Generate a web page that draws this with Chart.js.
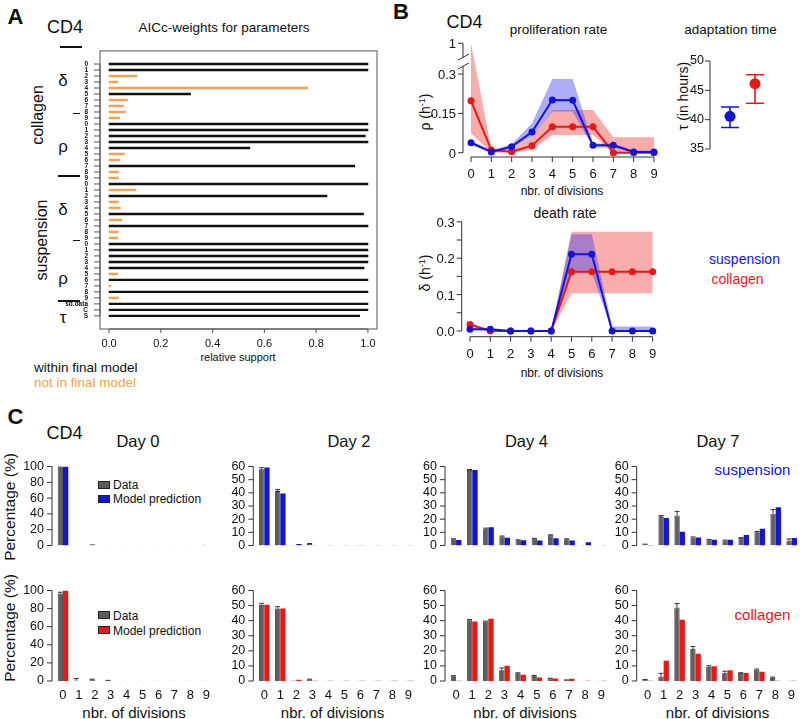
<!DOCTYPE html>
<html>
<head>
<meta charset="utf-8">
<script src="https://cdn.jsdelivr.net/npm/chart.js@4.4.1/dist/chart.umd.min.js"></script>
<style>
  body { margin: 0; width: 800px; height: 719px; position: relative; overflow: hidden; background: #fff;
         font-family: 'Liberation Sans', Arial, sans-serif; color: #111; }
  canvas { position: absolute; z-index: 2; }
  .t { position: absolute; white-space: nowrap; line-height: 1; z-index: 1; }
  .tk { z-index: 3; }
  .ln { position: absolute; background: #111; height: 1.5px; }
  .box { position: absolute; box-sizing: border-box; border: 1px solid #222; }
</style>
</head>
<body>
<script>
// ---------- data ----------
const digits = ['0', '1', '2', '3', '4', '5', '6', '7', '8', '9'];
const aRowLabels = [...digits, ...digits, ...digits, ...digits, 'sd.data', 'C', 'S'];
const aTicks = [0, 0.2, 0.4, 0.6, 0.8, 1.0];
// AICc weights: collagen delta, collagen rho, suspension delta, suspension rho, sd.data, tau C, tau S
const aWeights = [
  1.0, 1.0, 0.108, 0.033, 0.767, 0.315, 0.071, 0.055, 0.063, 0.041,
  1.0, 1.0, 0.99, 1.0, 0.544, 0.059, 0.040, 0.949, 0.036, 0.036,
  1.0, 0.104, 0.842, 0.036, 0.044, 0.983, 0.049, 1.0, 0.036, 0.033,
  1.0, 1.0, 1.0, 1.0, 0.985, 0.033, 1.0, 0.007, 1.0, 0.036,
  1.0, 1.0, 0.968
];
const aInFinal = [
  1, 1, 0, 0, 0, 1, 0, 0, 0, 0,
  1, 1, 1, 1, 1, 0, 0, 1, 0, 0,
  1, 0, 1, 0, 0, 1, 0, 1, 0, 0,
  1, 1, 1, 1, 1, 0, 1, 0, 1, 0,
  1, 1, 1
];

const divisions = [0, 1, 2, 3, 4, 5, 6, 7, 8, 9];
const rhoTicks = [0, 0.15, 0.3, 1];
const rhoTickLabels = ['0', '0.15', '0.3', '1'];
const rhoSus   = [0.038, 0.003, 0.023, 0.079, 0.201, 0.200, 0.028, 0.028, 0.003, 0.003];
const rhoSusLo = [0.030, 0.000, 0.015, 0.061, 0.157, 0.157, 0.020, 0.020, 0.000, 0.000];
const rhoSusHi = [0.045, 0.010, 0.032, 0.112, 0.281, 0.281, 0.035, 0.035, 0.008, 0.008];
const rhoCol   = [0.198, 0.010, 0.004, 0.027, 0.099, 0.099, 0.099, 0.000, 0.000, 0.000];
const rhoColLo = [0.074, 0.000, 0.000, 0.010, 0.068, 0.068, 0.068, 0.000, 0.000, 0.000];
const rhoColHi = [1.000, 0.015, 0.012, 0.060, 0.163, 0.163, 0.163, 0.059, 0.059, 0.059];

const deltaTicks = [0, 0.05, 0.1, 0.15, 0.2, 0.25, 0.3];
const deltaTickLabels = ['0.0', '', '0.1', '', '0.2', '', '0.3'];
const deltaSus   = [0.005, 0.005, 0, 0, 0, 0.211, 0.211, 0, 0, 0];
const deltaSusLo = [0.003, 0.000, 0, 0, 0, 0.160, 0.160, 0, 0, 0];
const deltaSusHi = [0.007, 0.007, 0.001, 0.001, 0.001, 0.266, 0.266, 0.012, 0.012, 0.012];
const deltaCol   = [0.018, 0.000, 0, 0, 0, 0.163, 0.163, 0.163, 0.163, 0.163];
const deltaColLo = [0.012, 0.000, 0, 0, 0, 0.104, 0.104, 0.104, 0.104, 0.104];
const deltaColHi = [0.022, 0.002, 0.001, 0.001, 0.001, 0.273, 0.273, 0.273, 0.273, 0.273];

const tauLabels = ['suspension', 'collagen'];
const tauMean = [40.57, 46.13];
const tauLo   = [38.67, 42.80];
const tauHi   = [42.17, 47.65];

// percentage of cells per division, data (mean, sd) and model
const sus0Data  = [98.3, 0.3, 1.5, 0.3, 0.4, 0.3, 0.3, 0.3, 0.3, 1.0];
const sus0Err   = [1.0, 0, 0, 0, 0, 0, 0, 0, 0, 0];
const sus0Model = [100, 0.1, 0.1, 0.1, 0.1, 0.1, 0.1, 0.1, 0.1, 0.1];
const sus2Data  = [57.9, 41.3, 0.3, 1.2, 0.2, 0.2, 0.3, 0.2, 0.2, 0.2];
const sus2Err   = [1.2, 1.3, 0, 0.3, 0, 0, 0, 0, 0, 0];
const sus2Model = [59.3, 39.4, 1.2, 0.2, 0.1, 0.1, 0.1, 0.1, 0.1, 0.1];
const sus4Data  = [4.8, 57.4, 12.7, 6.9, 4.0, 5.1, 7.7, 4.8, 0.3, 0.2];
const sus4Err   = [0.3, 0.3, 0.5, 0.3, 0.3, 0.3, 0.4, 0.3, 0, 0];
const sus4Model = [4.2, 57.4, 13.9, 5.9, 4.0, 3.8, 5.5, 3.8, 2.4, 0.2];
const sus7Data  = [0.8, 22.2, 22.8, 6.1, 4.4, 3.8, 5.7, 10.1, 24.2, 3.8];
const sus7Err   = [0.2, 0.5, 3.1, 0.4, 0.2, 0.3, 0.3, 0.6, 3.1, 1.2];
const sus7Model = [0.3, 20.8, 10.5, 6.0, 4.4, 4.4, 7.9, 12.7, 29.1, 5.7];

const col0Data  = [96.6, 0.6, 1.7, 0.5, 0.3, 0.3, 0.2, 0.2, 0.2, 0.2];
const col0Err   = [1.5, 2.1, 0.3, 0.2, 0, 0, 0, 0, 0, 0];
const col0Model = [100, 0.1, 0.1, 0.1, 0.1, 0.1, 0.1, 0.1, 0.1, 0.1];
const col2Data  = [50.5, 48.0, 0.3, 1.0, 0.2, 0.2, 0.1, 0.1, 0.1, 0.1];
const col2Err   = [1.0, 1.3, 0, 0.2, 0, 0, 0, 0, 0, 0];
const col2Model = [50.5, 48.0, 0.9, 0.1, 0.1, 0.1, 0.1, 0.1, 0.1, 0.1];
const col4Data  = [3.2, 40.2, 39.4, 7.1, 5.1, 3.4, 1.6, 0.5, 0.2, 0.2];
const col4Err   = [0.3, 0.5, 0.3, 1.5, 0.3, 0.3, 0.2, 0.2, 0, 0];
const col4Model = [0.1, 39.4, 41.2, 10.1, 4.1, 2.4, 1.6, 1.5, 0.1, 0.1];
const col7Data  = [0.8, 3.0, 48.7, 21.3, 9.3, 5.5, 5.3, 7.5, 2.0, 0.1];
const col7Err   = [0.2, 2.1, 2.6, 1.6, 0.8, 1.0, 0.2, 0.4, 0.6, 0];
const col7Model = [0.1, 13.4, 40.6, 18.1, 9.7, 7.1, 5.3, 6.1, 0.1, 0.1];

// ---------- styles ----------
const BLUE = '#1414d8';
const RED = '#ec1616';
const BLUE_BAND = 'rgba(60,60,240,0.42)';
const RED_BAND = 'rgba(242,70,70,0.45)';
const GRAY = '#5e5e5e';
const ORANGE = '#f4a24c';
const FONT = "'Liberation Sans', Arial, sans-serif";

Chart.defaults.font.family = FONT;
Chart.defaults.color = '#111';
Chart.defaults.animation = false;
Chart.defaults.responsive = false;
Chart.defaults.plugins.legend.display = false;
Chart.defaults.plugins.tooltip.enabled = false;

// R-like axes: line from first to last tick, outward ticks, optional box and axis break.
// cfg is captured directly so arrays don't go through Chart's option resolver.
function rAxes(cfg) {
  return {
    id: 'rAxes',
    afterDraw(chart) {
      const { ctx, chartArea: a } = chart;
      ctx.save();
      ctx.strokeStyle = cfg.color || '#333';
      ctx.lineWidth = 1;
      if (cfg.box) ctx.strokeRect(a.left, a.top, a.right - a.left, a.bottom - a.top);
      (cfg.axes || []).forEach(ax => {
        const s = chart.scales[ax.id];
        const vals = ax.values || s.ticks.map(t => t.value);
        const px = vals.map(v => s.getPixelForValue(v));
        const lo = Math.min(...px), hi = Math.max(...px);
        ctx.beginPath();
        if (s.isHorizontal()) {
          const y = a.bottom + (ax.off || 0);
          ctx.moveTo(lo, y); ctx.lineTo(hi, y);
          px.forEach(p => { ctx.moveTo(p, y); ctx.lineTo(p, y + ax.len); });
        } else {
          const x = a.left - (ax.off || 0);
          const segs = ax.segs ? ax.segs.map(sg => sg.map(v => s.getPixelForValue(v))) : [[lo, hi]];
          segs.forEach(([p1, p2]) => { ctx.moveTo(x, p1); ctx.lineTo(x, p2); });
          px.forEach(p => { ctx.moveTo(x, p); ctx.lineTo(x - ax.len, p); });
          (ax.breaks || []).forEach(v => {
            const p = s.getPixelForValue(v);
            ctx.moveTo(x - 5, p + 3); ctx.lineTo(x + 6, p - 3);
          });
        }
        ctx.stroke();
      });
      ctx.restore();
    }
  };
}

// error bars read from dataset.errHi / dataset.errLo
function errBars(cap, width) {
  return {
    id: 'errBars',
    afterDatasetsDraw(chart) {
      const ctx = chart.ctx;
      chart.data.datasets.forEach((ds, di) => {
        if (!ds.errHi) return;
        const meta = chart.getDatasetMeta(di);
        const ys = chart.scales[meta.yAxisID];
        ctx.save();
        ctx.lineWidth = width;
        meta.data.forEach((el, i) => {
          if (ds.errHi[i] == null) return;
          const hi = ys.getPixelForValue(ds.errHi[i]);
          const lo = ys.getPixelForValue(ds.errLo ? ds.errLo[i] : ds.data[i]);
          ctx.strokeStyle = Array.isArray(ds.errColor) ? ds.errColor[i] : (ds.errColor || '#222');
          ctx.beginPath();
          ctx.moveTo(el.x, lo); ctx.lineTo(el.x, hi);
          ctx.moveTo(el.x - cap, hi); ctx.lineTo(el.x + cap, hi);
          if (ds.errLo) { ctx.moveTo(el.x - cap, lo); ctx.lineTo(el.x + cap, lo); }
          ctx.stroke();
        });
        ctx.restore();
      });
    }
  };
}

// ---------- helpers ----------
function mk(left, top, w, h) {
  const c = document.createElement('canvas');
  c.width = w; c.height = h;
  c.style.left = left + 'px'; c.style.top = top + 'px';
  c.style.width = w + 'px'; c.style.height = h + 'px';
  document.body.appendChild(c);
  return c;
}

function txt(s, x, y, size, opt = {}) {
  const d = document.createElement('div');
  d.className = 't' + (opt.cls ? ' ' + opt.cls : '');
  if (opt.html) d.innerHTML = s; else d.textContent = s;
  d.style.left = x + 'px';
  d.style.top = y + 'px';
  d.style.fontSize = size + 'px';
  if (opt.color) d.style.color = opt.color;
  if (opt.bold) d.style.fontWeight = 'bold';
  let tr = opt.left ? 'translate(0,-50%)' : opt.right ? 'translate(-100%,-50%)' : 'translate(-50%,-50%)';
  if (opt.rot) tr += ' rotate(-90deg)';
  d.style.transform = tr;
  document.body.appendChild(d);
}

function hline(x1, x2, y) {
  const d = document.createElement('div');
  d.className = 'ln';
  d.style.left = x1 + 'px'; d.style.top = y + 'px'; d.style.width = (x2 - x1) + 'px';
  document.body.appendChild(d);
}

function swatch(x, y, w, h, color) {
  const d = document.createElement('div');
  d.className = 'box';
  d.style.left = x + 'px'; d.style.top = y + 'px';
  d.style.width = w + 'px'; d.style.height = h + 'px';
  d.style.background = color;
  document.body.appendChild(d);
}

const noGrid = { display: false, drawTicks: false };
const noBorder = { display: false };

// ---------- panel A ----------
txt('A', 15.5, 16.5, 22, { bold: true });
txt('CD4', 65, 26.5, 18);
txt('AICc-weights for parameters', 224, 27.5, 13.5);

new Chart(mk(0, 35, 390, 315), {
  type: 'bar',
  data: {
    datasets: [{
      data: aWeights.map((w, i) => ({ x: w, y: i })),
      backgroundColor: aInFinal.map(f => f ? '#111' : ORANGE),
      barThickness: 1.8
    }]
  },
  options: {
    indexAxis: 'y',
    layout: { padding: { top: 6, right: 13, left: 0, bottom: 0 } },
    scales: {
      x: {
        type: 'linear', min: -0.035, max: 1.035,
        afterBuildTicks: s => { s.ticks = aTicks.map(v => ({ value: v })); },
        afterFit: s => { s.height = 21; },
        grid: noGrid, border: noBorder,
        ticks: { font: { size: 11 }, padding: 8, callback: v => v.toFixed(1) }
      },
      y: {
        type: 'linear', reverse: true, min: -1.65, max: 43.65,
        afterBuildTicks: s => { s.ticks = aRowLabels.map((_, i) => ({ value: i })); },
        afterFit: s => { s.width = 100; },
        grid: noGrid, border: noBorder,
        ticks: { autoSkip: false, font: { size: 6.5, weight: 'bold' }, padding: 12, callback: v => aRowLabels[v] }
      }
    }
  },
  plugins: [rAxes({ box: true, color: '#555', axes: [{ id: 'x', len: 4 }, { id: 'y', len: 6 }] })]
});

hline(60, 82, 46);
txt('δ', 63, 80, 17);
txt('collagen', 38, 115, 16, { rot: true });
hline(73, 80, 112.5);
txt('ρ', 63, 146, 17);
hline(58, 80, 175);
txt('δ', 63, 209, 17);
txt('suspension', 42, 240, 16, { rot: true });
hline(73, 80, 239.5);
txt('ρ', 63, 278, 17);
hline(58, 80, 300);
txt('τ', 63, 317, 17);

txt('relative support', 238, 357, 11);
txt('within final model', 34, 368, 13.5, { left: true });
txt('not in final model', 34, 383, 13.5, { left: true, color: ORANGE });

// ---------- panel B ----------
txt('B', 401, 12, 22, { bold: true });
txt('CD4', 464.5, 21.5, 18);
txt('proliferation rate', 558.5, 30, 13.5);
txt('adaptation time', 730.5, 30, 13.5);

// broken y axis: values above 0.3 are compressed
const RHO_K = 0.168;
const T = v => v <= 0.3 ? v : 0.3 + (v - 0.3) * RHO_K;

function rateChart(pos, pad, yWidth, xHeight, xr, yr, yAxis, series) {
  const [sus, susLo, susHi, col, colLo, colHi] = series;
  const line = (d, c) => ({ data: d, borderColor: c, backgroundColor: c, borderWidth: 2, pointRadius: 3.5, pointBorderWidth: 0, tension: 0, fill: false });
  const band = (d, c, fill) => ({ data: d, borderWidth: 0, pointRadius: 0, backgroundColor: c, fill: fill, tension: 0 });
  const chart = new Chart(mk(...pos), {
    type: 'line',
    data: {
      labels: divisions,
      datasets: [
        line(sus, BLUE),
        line(col, RED),
        band(susHi, BLUE_BAND, '+1'),
        band(susLo, BLUE_BAND, false),
        band(colHi, RED_BAND, '+1'),
        band(colLo, RED_BAND, false)
      ]
    },
    options: {
      layout: { padding: pad },
      scales: {
        x: {
          type: 'linear', min: xr[0], max: xr[1],
          afterBuildTicks: s => { s.ticks = divisions.map(v => ({ value: v })); },
          afterFit: s => { s.height = xHeight; },
          grid: noGrid, border: noBorder,
          ticks: { font: { size: 13 }, padding: 10 }
        },
        y: {
          min: yr[0], max: yr[1],
          afterFit: s => { s.width = yWidth; },
          grid: noGrid, border: noBorder,
          ticks: { display: false }
        }
      }
    },
    plugins: [rAxes({ axes: [{ id: 'x', len: 5 }, yAxis] })]
  });
  // y tick labels placed from the chart's own y scale
  const ys = chart.scales.y;
  const lx = pos[0] + chart.chartArea.left - yAxis.len - 2;
  yAxis.labels.forEach((l, i) => {
    if (l) txt(l, lx, pos[1] + ys.getPixelForValue(yAxis.values[i]), 13, { right: true, cls: 'tk' });
  });
  return chart;
}

rateChart(
  [400, 30, 270, 160],
  { top: 10, right: 8, left: 0, bottom: 0 }, 63, 33,
  [-0.3935, 9.3935], [-0.0164, 0.430],
  { id: 'y', len: 5, values: rhoTicks.map(T), labels: rhoTickLabels,
    segs: [[0, 0.331], [0.365, T(1)]], breaks: [0.331, 0.365] },
  [rhoSus.map(T), rhoSusLo.map(T), rhoSusHi.map(T), rhoCol.map(T), rhoColLo.map(T), rhoColHi.map(T)]
);
txt('ρ (h<sup style="font-size:9px">-1</sup>)', 425, 112, 14, { rot: true, html: true });
txt('nbr. of divisions', 562, 191, 12);

// adaptation time
new Chart(mk(660, 40, 120, 130), {
  type: 'line',
  data: {
    labels: tauLabels,
    datasets: [{
      data: tauMean, showLine: false, pointRadius: 5.5, pointBorderWidth: 0,
      pointBackgroundColor: [BLUE, RED],
      errLo: tauLo, errHi: tauHi, errColor: [BLUE, RED]
    }]
  },
  options: {
    layout: { padding: { top: 12.7, right: 12.5, left: 0, bottom: 11.3 } },
    scales: {
      x: { type: 'category', display: false, offset: true },
      y: {
        min: 35, max: 50,
        afterFit: s => { s.width = 57.5; },
        grid: noGrid, border: noBorder,
        ticks: { stepSize: 5, autoSkip: false, font: { size: 12.5 }, padding: 13.5 }
      }
    }
  },
  plugins: [rAxes({ axes: [{ id: 'y', len: 5, off: 7.5 }] }), errBars(9, 1.6)]
});
txt('τ (in hours)', 682.5, 96, 14, { rot: true });

// death rate
txt('death rate', 565, 212.5, 14);
rateChart(
  [400, 200, 270, 170],
  { top: 15, right: 9, left: 0, bottom: 0 }, 61.7, 33.3,
  [-0.409, 9.409], [-0.0157, 0.3187],
  { id: 'y', len: 5, values: deltaTicks, labels: deltaTickLabels },
  [deltaSus, deltaSusLo, deltaSusHi, deltaCol, deltaColLo, deltaColHi]
);
txt('δ (h<sup style="font-size:9px">-1</sup>)', 425, 273, 14, { rot: true, html: true });
txt('nbr. of divisions', 562, 373, 12);
txt('suspension', 744.5, 259, 14, { color: BLUE });
txt('collagen', 737.5, 279, 14, { color: RED });

// ---------- panel C ----------
txt('C', 15.5, 417, 22, { bold: true });
txt('CD4', 64.5, 433, 18);

function distChart(axisX, top, areaTop, areaBottom, sp, data, err, model, color, ymax, step, showX) {
  const cl = Math.floor(axisX - 48);
  const areaLeft = axisX + 3;
  const areaRight = areaLeft + 10 * sp;
  const cw = Math.ceil(areaRight - cl) + 2;
  const ch = showX ? 134 : 116;
  new Chart(mk(cl, top, cw, ch), {
    type: 'bar',
    data: {
      labels: divisions,
      datasets: [
        {
          data: data, backgroundColor: GRAY, borderColor: '#262626', borderWidth: 0.8,
          errHi: err.map((e, i) => (e ? data[i] + e : null)), errColor: '#333'
        },
        { data: model, backgroundColor: color, borderColor: color, borderWidth: 0 }
      ]
    },
    options: {
      categoryPercentage: 0.66,
      barPercentage: 1.0,
      layout: { padding: { top: areaTop - top, right: cw - (areaRight - cl), left: 0, bottom: showX ? 0 : top + ch - areaBottom } },
      scales: {
        x: {
          display: showX,
          afterFit: s => { s.height = top + ch - areaBottom; },
          grid: noGrid, border: noBorder,
          ticks: { font: { size: 13 }, padding: 7, autoSkip: false, maxRotation: 0 }
        },
        y: {
          min: 0, max: ymax,
          afterFit: s => { s.width = areaLeft - cl; },
          grid: noGrid, border: noBorder,
          ticks: { stepSize: step, autoSkip: false, font: { size: 12.5 }, padding: 11 }
        }
      }
    },
    plugins: [rAxes({ axes: [{ id: 'y', len: 5, off: 3 }] }), errBars(2.5, 1)]
  });
}

const colAxis = [52, 253.3, 445, 636.7];
const colSp = [16, 16, 16.2, 16];
const dayTitles = ['Day 0', 'Day 2', 'Day 4', 'Day 7'];
const dayTitleX = [138, 349, 526.5, 718];
const divLabelX = [134, 332.5, 525, 717.5];
const yMaxes = [100, 60, 60, 60];
const ySteps = [20, 10, 10, 10];
const susSets = [[sus0Data, sus0Err, sus0Model], [sus2Data, sus2Err, sus2Model], [sus4Data, sus4Err, sus4Model], [sus7Data, sus7Err, sus7Model]];
const colSets = [[col0Data, col0Err, col0Model], [col2Data, col2Err, col2Model], [col4Data, col4Err, col4Model], [col7Data, col7Err, col7Model]];

for (let k = 0; k < 4; k++) {
  txt(dayTitles[k], dayTitleX[k], 441, 16.5);
  const [sd, se, sm] = susSets[k];
  distChart(colAxis[k], 448, 458.3, 556.7, colSp[k], sd, se, sm, BLUE, yMaxes[k], ySteps[k], false);
  const [cd, ce, cm] = colSets[k];
  distChart(colAxis[k], 572, 582.3, 681, colSp[k], cd, ce, cm, RED, yMaxes[k], ySteps[k], true);
  txt('nbr. of divisions', divLabelX[k], 712, 15);
}

txt('Percentage (%)', 10, 507, 15.5, { rot: true });
txt('Percentage (%)', 10, 628, 15.5, { rot: true });

swatch(98.3, 481, 11.7, 8, GRAY);
txt('Data', 113, 485, 12, { left: true });
swatch(98.3, 495.3, 11.7, 8, BLUE);
txt('Model prediction', 113, 499.3, 12, { left: true });
swatch(98.3, 611, 11.7, 8, GRAY);
txt('Data', 113, 615.5, 12, { left: true });
swatch(98.3, 626.3, 11.7, 8, RED);
txt('Model prediction', 113, 630.5, 12, { left: true });

txt('suspension', 752.5, 469, 15, { color: BLUE });
txt('collagen', 762.5, 614, 15, { color: RED });
</script>
</body>
</html>
